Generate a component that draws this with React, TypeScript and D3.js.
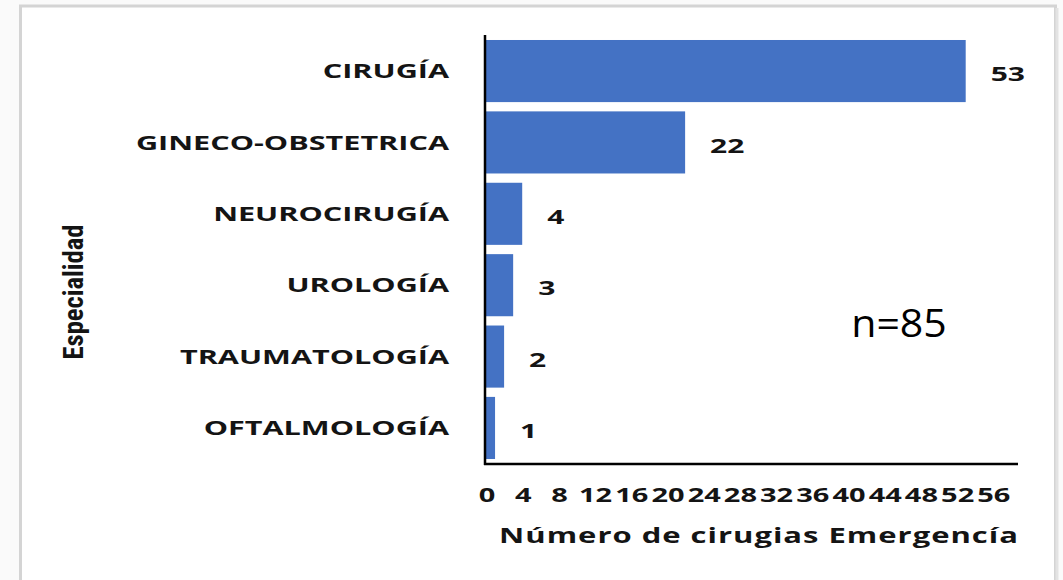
import React from "react";
import * as d3 from "d3";

const categories = ["CIRUGÍA", "GINECO-OBSTETRICA", "NEUROCIRUGÍA", "UROLOGÍA", "TRAUMATOLOGÍA", "OFTALMOLOGÍA"];
const values = [53, 22, 4, 3, 2, 1];
const tickValues = [0, 4, 8, 12, 16, 20, 24, 28, 32, 36, 40, 44, 48, 52, 56];
const xTitle = "Número de cirugias Emergencía";
const yTitle = "Especialidad";
const note = "n=85";

const font = "'Open Sans', sans-serif";

function WideText(props: { x: number; y: number; sx: number; anchor: string; size: number; weight?: number; ls?: number; children: React.ReactNode; family?: string }) {
  return (
    <text transform={`translate(${props.x},${props.y}) scale(${props.sx},1)`} dy="0.36em" textAnchor={props.anchor}
      fontFamily={props.family || font} fontWeight={props.weight ?? 700} fontSize={props.size} letterSpacing={props.ls ?? 0} fill="#141414">
      {props.children}
    </text>
  );
}

export default function App() {
  const W = 1063, H = 580;
  const x0 = 486, yTop = 35, yBot = 464;
  const x = d3.scaleLinear().domain([0, 59]).range([x0, 1020]);
  const y = d3.scaleBand<string>().domain(categories).range([yTop, yBot]).paddingInner(0.13).paddingOuter(0.07);
  return (
    <svg width={W} height={H} style={{ position: "absolute", left: 0, top: 0 }}>
      <rect x={0} y={0} width={W} height={H} fill="#fafafa" />
      <rect x={20.5} y={6} width={1035} height={H + 20} fill="#ffffff" stroke="#d4d4d4" strokeWidth={3} />
      <line x1={1057} x2={1057} y1={8} y2={H} stroke="#e3e3e3" strokeWidth={3} />
      {categories.map((c, i) => (
        <g key={c}>
          <rect x={x(0)} y={y(c)} width={x(values[i]) - x(0)} height={y.bandwidth()} fill="#4472c4" />
          <WideText x={449} y={(y(c) as number) + y.bandwidth() / 2} sx={1.53} anchor="end" size={20}>{c}</WideText>
          <WideText x={x(values[i]) + 25} y={(y(c) as number) + y.bandwidth() / 2 + 3} sx={1.5} anchor="start" size={20}>{values[i]}</WideText>
        </g>
      ))}
      <line x1={x0 - 1} x2={x0 - 1} y1={yTop} y2={yBot + 1} stroke="#000" strokeWidth={2.5} />
      <line x1={x0 - 2} x2={1018} y1={yBot} y2={yBot} stroke="#000" strokeWidth={2.5} />
      {tickValues.map((t) => (
        <WideText key={t} x={x(t) + 1} y={495} sx={1.45} anchor="middle" size={20}>{t}</WideText>
      ))}
      <WideText x={759} y={535} sx={1.41} anchor="middle" size={22} ls={0.7}>{xTitle}</WideText>
      <text transform="translate(73,292) rotate(-90)" textAnchor="middle" dy="0.36em" fontFamily="'Liberation Sans Narrow', 'Roboto Condensed', Roboto, sans-serif"
        fontWeight={700} fontSize={27} textLength={135} lengthAdjust="spacingAndGlyphs" fill="#141414">{yTitle}</text>
      <text transform="translate(899,323) scale(1.08,1)" dy="0.36em" textAnchor="middle" fontFamily={font} fontSize={38}
        fill="#000">{note}</text>
    </svg>
  );
}
